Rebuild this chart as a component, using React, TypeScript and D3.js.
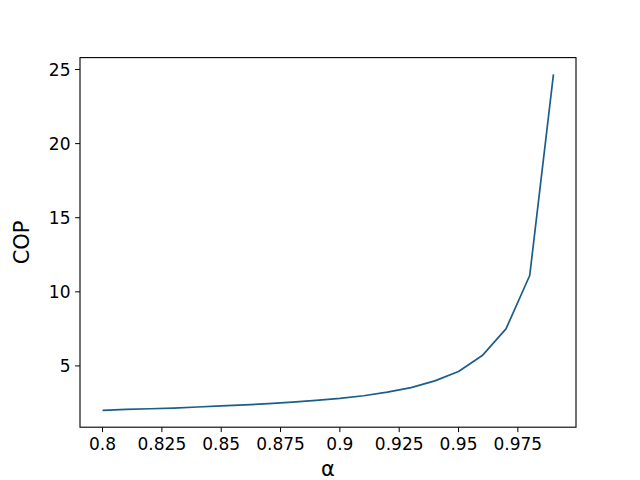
import React from "react";
import * as d3 from "d3";

const alphas = [0.8, 0.81, 0.82, 0.83, 0.84, 0.85, 0.86, 0.87, 0.88, 0.89, 0.9, 0.91, 0.92, 0.93, 0.94, 0.95, 0.96, 0.97, 0.98, 0.99];
const cop = [2.0, 2.07, 2.11, 2.16, 2.23, 2.3, 2.37, 2.46, 2.56, 2.67, 2.81, 2.99, 3.23, 3.54, 3.99, 4.62, 5.7, 7.5, 11.1, 24.67];
const xTicks = [0.8, 0.825, 0.85, 0.875, 0.9, 0.925, 0.95, 0.975];
const xTickLabels = ["0.8", "0.825", "0.85", "0.875", "0.9", "0.925", "0.95", "0.975"];
const yTicks = [5, 10, 15, 20, 25];
const xLabel = "α";
const yLabel = "COP";

export default function App() {
  const W = 640, H = 480;
  const left = 80, right = 576, top = 57.6, bottom = 427.2;
  const xExt = d3.extent(alphas) as [number, number];
  const yExt = d3.extent(cop) as [number, number];
  const xm = (xExt[1] - xExt[0]) * 0.05;
  const ym = (yExt[1] - yExt[0]) * 0.05;
  const x = d3.scaleLinear().domain([xExt[0] - xm, xExt[1] + xm]).range([left, right]);
  const y = d3.scaleLinear().domain([yExt[0] - ym, yExt[1] + ym]).range([bottom, top]);
  const line = d3.line<number>().x((_, i) => x(alphas[i])).y((d) => y(d));
  const font = "DejaVu Sans, sans-serif";
  return (
    <svg width={W} height={H} style={{ position: "absolute", left: 0, top: 0 }}>
      <rect width={W} height={H} fill="#fff" />
      <path d={line(cop) || ""} fill="none" stroke="#1a5e8a" strokeWidth={1.7} strokeLinejoin="round" />
      <rect x={left} y={top} width={right - left} height={bottom - top} fill="none" stroke="#000" strokeWidth={1.1} />
      {xTicks.map((t, i) => (
        <g key={"x" + i}>
          <line x1={x(t)} x2={x(t)} y1={bottom} y2={bottom + 4.9} stroke="#000" strokeWidth={1} />
          <text x={x(t)} y={bottom + 9.5} dy="0.76em" textAnchor="middle" fontFamily={font} fontSize={17} fill="#000">{xTickLabels[i]}</text>
        </g>
      ))}
      {yTicks.map((t, i) => (
        <g key={"y" + i}>
          <line x1={left - 4.9} x2={left} y1={y(t)} y2={y(t)} stroke="#000" strokeWidth={1} />
          <text x={left - 9.5} y={y(t)} dy="0.36em" textAnchor="end" fontFamily={font} fontSize={17} fill="#000">{t}</text>
        </g>
      ))}
      <text x={(left + right) / 2} y={476} textAnchor="middle" fontFamily={font} fontSize={21} fill="#000">{xLabel}</text>
      <text transform={`translate(${29},${(top + bottom) / 2}) rotate(-90)`} textAnchor="middle" fontFamily={font} fontSize={21} fill="#000">{yLabel}</text>
    </svg>
  );
}
